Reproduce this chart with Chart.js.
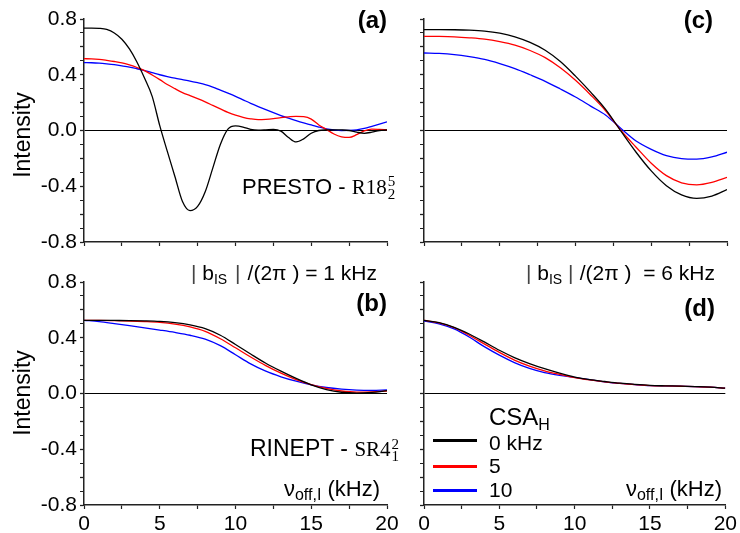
<!DOCTYPE html>
<html><head><meta charset="utf-8">
<script src="https://cdn.jsdelivr.net/npm/chart.js@4.4.1/dist/chart.umd.min.js"></script>
<style>
body{margin:0;background:#fff;}
#wrap{position:relative;width:740px;height:533px;overflow:hidden;font-family:"Liberation Sans",Arial,sans-serif;color:#000;background:#fff;}
canvas{position:absolute;}
.t{position:absolute;white-space:nowrap;line-height:1;}
.serif{font-family:"Liberation Serif","DejaVu Serif",serif;}
.rot{transform:translate(-50%,-50%) rotate(-90deg);}
.bar{color:#444;}
.ss{display:inline-block;position:relative;width:12px;height:1px;}
.ss span{position:absolute;left:1px;font-size:15px;line-height:1;font-family:"Liberation Serif","DejaVu Serif",serif;}
.leg{position:absolute;height:3px;width:44px;left:433px;}
</style></head><body><div id="wrap">
<canvas id="cA" width="403" height="258" style="left:0;top:0"></canvas>
<canvas id="cB" width="403" height="271" style="left:0;top:262px"></canvas>
<canvas id="cC" width="326" height="258" style="left:414px;top:0"></canvas>
<canvas id="cD" width="326" height="271" style="left:414px;top:262px"></canvas>

<div class="t rot" style="left:22px;top:135px;font-size:23px">Intensity</div>
<div class="t rot" style="left:22px;top:393px;font-size:23px">Intensity</div>

<div class="t" style="right:353px;top:7.7px;font-size:24px;font-weight:bold">(a)</div>
<div class="t" style="right:27px;top:7.7px;font-size:24px;font-weight:bold">(c)</div>
<div class="t" style="right:353px;top:290.7px;font-size:24px;font-weight:bold">(b)</div>
<div class="t" style="right:25px;top:295.7px;font-size:24px;font-weight:bold">(d)</div>

<div class="t" style="left:242px;top:176.4px;font-size:22px">PRESTO - <span class="serif" style="font-size:21px">R18</span><span class="ss"><span style="top:-19.6px">5</span><span style="top:-6.6px">2</span></span></div>

<div class="t" style="left:250px;top:436.5px;font-size:23px">RINEPT - <span class="serif" style="font-size:21px">SR4</span><span class="ss"><span style="top:-17.6px">2</span><span style="top:-5.6px">1</span></span></div>

<div class="t" style="left:191px;top:262.2px;font-size:21px"><span class="bar">|</span> b<span style="font-size:14px;position:relative;top:4px">IS</span></div>
<div class="t bar" style="left:235px;top:262.2px;font-size:21px">|</div>
<div class="t" style="right:363px;top:262.2px;font-size:21px">/(2π ) = 1 kHz</div>

<div class="t" style="left:526px;top:262.2px;font-size:21px"><span class="bar">|</span> b<span style="font-size:14px;position:relative;top:4px">IS</span></div>
<div class="t bar" style="left:568px;top:262.2px;font-size:21px">|</div>
<div class="t" style="right:25px;top:262.2px;font-size:21px">/(2π )&nbsp; = 6 kHz</div>

<div class="t" style="right:360px;top:478.4px;font-size:22px">ν<span style="font-size:16px;position:relative;top:4px">off,I</span> (kHz)</div>
<div class="t" style="right:18px;top:478.4px;font-size:22px">ν<span style="font-size:16px;position:relative;top:4px">off,I</span> (kHz)</div>

<div class="t" style="left:489px;top:404.7px;font-size:24px">CSA<span style="font-size:16px;position:relative;top:5px">H</span></div>
<div class="leg" style="top:439px;background:#000"></div>
<div class="leg" style="top:465px;background:#ff0000"></div>
<div class="leg" style="top:489px;background:#0000ff"></div>
<div class="t" style="left:489px;top:432.2px;font-size:21px">0 kHz</div>
<div class="t" style="left:489px;top:455.2px;font-size:21px">5</div>
<div class="t" style="left:489px;top:479.2px;font-size:21px">10</div>
</div>
<script>
// x positions (kHz)
const xFine = [0,0.5,1,1.5,2,2.5,3,3.5,4,4.5,5,5.5,6,6.5,7,7.5,8,8.5,9,9.5,10,10.5,11,11.5,12,12.5,13,13.5,14,14.5,15,15.5,16,16.5,17,17.5,18,18.5,19,19.5,20];
const xCoarse = [0,1,2,3,4,5,6,7,8,9,10,11,12,13,14,15,16,17,18,19,20];
const xTicksLabels = ['0','5','10','15','20'];
const yTickLabels = ['-0.8','-0.4','0.0','0.4','0.8'];

// (a) PRESTO, |bIS|/2pi = 1 kHz
const a_csa0 = [0.735,0.735,0.733,0.725,0.70,0.655,0.585,0.49,0.375,0.245,0.035,-0.15,-0.33,-0.51,-0.575,-0.545,-0.44,-0.27,-0.10,0.01,0.033,0.025,0.008,0.003,0.005,0.008,-0.005,-0.05,-0.082,-0.06,-0.02,0.0,0.004,0.005,0.004,0.0,-0.012,-0.02,-0.012,0.0,0.004];
const a_csa5 = [0.515,0.514,0.51,0.503,0.495,0.485,0.47,0.452,0.43,0.398,0.365,0.33,0.30,0.272,0.25,0.228,0.205,0.18,0.155,0.13,0.11,0.095,0.084,0.078,0.08,0.085,0.092,0.098,0.102,0.10,0.082,0.04,0.008,-0.025,-0.045,-0.05,-0.03,-0.002,0.01,0.008,0.005];
const a_csa10 = [0.487,0.486,0.483,0.478,0.472,0.464,0.455,0.443,0.43,0.415,0.40,0.387,0.375,0.365,0.355,0.343,0.33,0.312,0.29,0.268,0.245,0.22,0.195,0.172,0.15,0.128,0.107,0.088,0.07,0.054,0.04,0.025,0.012,0.004,0.0,0.001,0.005,0.015,0.03,0.046,0.062];

// (b) RINEPT, 1 kHz
const b_csa0 = [0.525,0.525,0.524,0.523,0.521,0.517,0.508,0.492,0.465,0.418,0.352,0.283,0.217,0.16,0.108,0.062,0.028,0.009,0.003,0.008,0.02];
const b_csa5 = [0.525,0.525,0.523,0.52,0.516,0.51,0.498,0.478,0.446,0.393,0.328,0.262,0.2,0.146,0.10,0.064,0.036,0.018,0.01,0.012,0.017];
const b_csa10 = [0.525,0.516,0.502,0.487,0.471,0.455,0.438,0.418,0.39,0.343,0.278,0.213,0.16,0.12,0.088,0.062,0.043,0.031,0.024,0.022,0.025];

// (c) PRESTO, 6 kHz
const c_csa0 = [0.724,0.724,0.723,0.72,0.713,0.698,0.672,0.632,0.576,0.495,0.39,0.275,0.15,-0.005,-0.156,-0.29,-0.396,-0.462,-0.487,-0.47,-0.424];
const c_csa5 = [0.676,0.675,0.672,0.665,0.655,0.637,0.612,0.574,0.523,0.45,0.36,0.255,0.14,0.0,-0.12,-0.235,-0.324,-0.375,-0.39,-0.372,-0.336];
const c_csa10 = [0.556,0.553,0.545,0.53,0.51,0.48,0.444,0.40,0.353,0.298,0.24,0.175,0.11,0.015,-0.075,-0.135,-0.18,-0.202,-0.206,-0.19,-0.156];

// (d) RINEPT, 6 kHz
const d_csa0 = [0.525,0.508,0.475,0.427,0.37,0.31,0.258,0.215,0.178,0.146,0.118,0.099,0.086,0.074,0.065,0.058,0.055,0.053,0.05,0.046,0.038];
const d_csa5 = [0.525,0.507,0.472,0.418,0.356,0.295,0.24,0.197,0.163,0.137,0.114,0.097,0.083,0.072,0.063,0.057,0.054,0.052,0.05,0.046,0.038];
const d_csa10 = [0.52,0.50,0.463,0.405,0.336,0.275,0.222,0.18,0.15,0.13,0.115,0.099,0.084,0.072,0.063,0.056,0.054,0.052,0.05,0.046,0.038];

const seriesColors = ['#000000','#ff0000','#0000ff'];
const AX = '#222';

function panel(id, xs, ys, showX, showY, yW, padTop, xH, padRight){
  const fmtY = v => { const r = Math.round(v*10)/10; const s = (r===0?0:r).toFixed(1); return yTickLabels.includes(s) ? s : ''; };
  const fmtX = v => { const s = String(Math.round(v*10)/10); return xTicksLabels.includes(s) ? s : ''; };
  return new Chart(document.getElementById(id), {
    type:'line',
    data:{datasets: ys.map((arr,i)=>({
      data: arr.map((v,j)=>({x:xs[j], y:v})),
      borderColor: seriesColors[i], borderWidth:1.3, pointRadius:0, fill:false,
      cubicInterpolationMode:'monotone'
    }))},
    options:{
      responsive:false, animation:false, devicePixelRatio:1, events:[],
      layout:{padding:{left:0, top:padTop, right:padRight, bottom:0}},
      plugins:{legend:{display:false}, tooltip:{enabled:false}},
      scales:{
        x:{type:'linear', min:0, max:20,
          afterFit: s => { s.height = xH; },
          ticks:{stepSize:2.5, autoSkip:false, maxRotation:0, minRotation:0, padding:3, color:'#000',
            font:{family:'Liberation Sans', size:21}, callback: v => showX ? fmtX(v) : ''},
          grid:{drawOnChartArea:false, drawTicks:true, tickLength:4, tickColor:AX, tickWidth:1.2},
          border:{display:true, color:AX, width:1.5}},
        y:{type:'linear', min:-0.8, max:0.8,
          afterFit: s => { s.width = yW; },
          ticks:{stepSize:0.1, autoSkip:false, padding:3, color:'#000',
            font:{family:'Liberation Sans', size:21}, callback: v => showY ? fmtY(v) : ''},
          grid:{drawOnChartArea:true, drawTicks:true, tickLength:4, tickColor:AX,
            tickWidth: c => (Math.abs(Math.round(c.tick.value*10))%2===0 ? 1.3 : 1),
            color: c => (c.tick && Math.abs(c.tick.value) < 1e-9) ? '#000' : 'rgba(0,0,0,0)',
            lineWidth: 1},
          border:{display:true, color:AX, width:1.5}}
      }
    }
  });
}

panel('cA', xFine, [a_csa0, a_csa5, a_csa10], false, true, 84, 19, 16, 16);
panel('cB', xCoarse, [b_csa0, b_csa5, b_csa10], true, true, 84, 20, 28, 16);
panel('cC', xCoarse, [c_csa0, c_csa5, c_csa10], false, false, 10, 19, 16, 13);
panel('cD', xCoarse, [d_csa0, d_csa5, d_csa10], true, false, 10, 20, 28, 13);
</script>
</body></html>
